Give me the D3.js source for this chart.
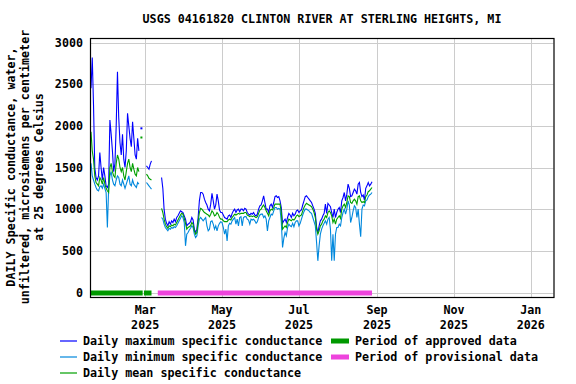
<!doctype html>
<html lang="en">
<head>
  <meta charset="UTF-8">
  <title>USGS 04161820</title>
  <script src="https://cdn.jsdelivr.net/npm/d3@7"></script>
  <style>
    body { margin: 0; background: #fff; }
    text { font-family: "DejaVu Sans Mono", monospace; font-weight: bold; font-size: 11.7px; fill: #000; }
  </style>
</head>
<body>
<svg width="576" height="384" id="chart"></svg>
<script>
  // daily values, one per day starting at firstDay (null = no data)
  var firstDay = '2025-01-17';

  var dailyMax = [
    2450, 2820, 2250, 1500, 1380, 1350, 1400, 1680, 1500, 1350, 1500, 1400, 1280, 1260, 1300, 2070,
    1900, 1700, 1450, 1550, 2000, 2650, 2100, 1800, 1650, 1900, 1600, 1500, 1700, 2150, 2000, 1850,
    1750, 2050, 1850, 1650, 1600, 1850, 1700,
    null, 1970, null, null, null,
    1520, 1500, 1480, 1540, 1580,
    null, null, null, null, null, null, null,
    1380, 1250, 1000, 880, 830, 800, 850, 820, 860, 840, 880, 850, 900, 920, 950, 980,
    970, 960, 920, 880, 800, 820, 830, 850, 900, 870, 760, 720, 760, 900, 1100, 1200,
    1200, 1180, 1120, 1080, 1050, 1000, 980, 1060, 1190, 1100, 1000, 1050, 1180, 1100, 990, 960,
    960, 930, 900, 890, 880, 920, 930, 900, 950, 980, 1000, 960, 990, 1000, 970, 1000,
    1000, 980, 1010, 1000, 960, 940, 930, 950, 940, 960, 930, 920, 940, 1000, 1040, 1050,
    1100, 1160, 1080, 1000, 1000, 960, 1040, 1060, 1020, 1080, 1150, 1160, 1140, 1150, 1100, 1020,
    830, 860, 880, 840, 900, 950, 930, 900, 950, 920, 940, 980, 990, 960, 980, 990,
    1050, 1100, 1150, 1160, 1140, 1120, 1100, 1080, 1040, 1000, 950, 790, 710, 800, 860, 880,
    920, 950, 1060, 950, 1070, 1050, 1030, 960, 900, 1000, 900, 960, 1000, 1020, 960, 1100,
    1140, 1200, 1100, 1180, 1300, 1250, 1150, 1160, 1200, 1240, 1220, 1180, 1300, 1320, 1200, 1150,
    1170, 1110, 1250, 1280, 1320, 1280, 1300, 1330
  ];

  var dailyMin = [
    1550, 1400, 1350, 1300, 1260, 1230, 1220, 1270, 1280, 1250, 1300, 1250, 1200, 780, 1250, 1400,
    1450, 1350, 1300, 1280, 1350, 1400, 1380, 1300, 1280, 1350, 1300, 1250, 1300, 1350, 1400, 1300,
    1280, 1350, 1300, 1280, 1260, 1320, 1300,
    null, null, null, null, null,
    1320, 1300, 1280, 1260, 1240,
    null, null, null, null, null, null, null,
    900, 880, 820, 780, 760, 740, 770, 760, 780, 770, 790, 780, 800, 830, 860, 890,
    920, 900, 840, 560, 700, 720, 750, 770, 800, 780, 700, 660, 680, 800, 880, 900,
    880, 860, 880, 900, 800, 740, 760, 850, 860, 820, 760, 800, 740, 800, 830, 850,
    840, 780, 700, 760, 620, 800, 830, 820, 860, 880, 900, 820, 880, 800, 900, 910,
    800, 900, 910, 910, 880, 870, 820, 880, 870, 880, 860, 830, 850, 900, 930, 940,
    940, 900, 920, 880, 740, 860, 900, 940, 930, 980, 1020, 1020, 1000, 1010, 1000, 850,
    540, 650, 720, 680, 780, 820, 800, 790, 830, 790, 840, 860, 860, 800, 830, 880,
    930, 970, 1000, 1000, 990, 980, 960, 950, 900, 850, 800, 600, 380, 560, 700, 760,
    800, 830, 860, 820, 880, 900, 760, 380, 700, 380, 700, 780, 780, 820, 800, 900,
    960, 1000, 940, 1000, 1100, 1050, 840, 900, 980, 1040, 1020, 900, 1000, 820, 670, 1000,
    1050, 1040, 1100, 1110, 1150, 1170, 1180, 1200
  ];

  var dailyMean = [
    1930, 1700, 1600, 1400, 1320, 1300, 1280, 1380, 1350, 1300, 1380, 1300, 1250, 1220, 1200, 1500,
    1550, 1450, 1400, 1380, 1550, 1650, 1600, 1500, 1450, 1500, 1400, 1350, 1450, 1550, 1600, 1500,
    1450, 1550, 1480, 1420, 1400, 1500, 1450,
    null, 1860, null, null, null,
    1420, 1400, 1370, 1360, 1350,
    null, null, null, null, null, null, null,
    1010, 960, 880, 820, 790, 770, 800, 790, 810, 800, 820, 810, 840, 870, 900, 930,
    950, 940, 890, 830, 760, 780, 790, 800, 840, 820, 740, 700, 720, 850, 960, 1010,
    1000, 980, 960, 950, 940, 930, 910, 940, 980, 960, 920, 930, 960, 940, 900, 880,
    880, 860, 850, 850, 850, 870, 880, 870, 900, 920, 940, 930, 940, 950, 940, 950,
    950, 950, 960, 960, 930, 920, 910, 920, 910, 920, 910, 900, 910, 950, 990, 1000,
    1030, 1050, 1020, 980, 950, 920, 980, 1000, 990, 1020, 1060, 1060, 1060, 1060, 1060, 960,
    760, 780, 800, 780, 840, 880, 870, 860, 880, 870, 890, 920, 930, 910, 920, 930,
    980, 1020, 1050, 1070, 1060, 1050, 1040, 1030, 1000, 960, 900, 760, 700, 740, 800, 820,
    860, 880, 920, 900, 960, 980, 960, 920, 840, 880, 820, 880, 900, 920, 890, 1000,
    1040, 1060, 1020, 1080, 1160, 1150, 1080, 1070, 1100, 1120, 1100, 1060, 1150, 1160, 1100, 1080,
    1090, 1080, 1150, 1170, 1210, 1220, 1240, 1260
  ];

  var approvedPeriods = [['2025-01-17', '2025-02-27'], ['2025-02-28', '2025-03-06']];
  var provisionalPeriods = [['2025-03-11', '2025-08-28']];
  var yTicks = [0, 500, 1000, 1500, 2000, 2500, 3000];
  var xTickDates = ['2025-03-01', '2025-05-01', '2025-07-01', '2025-09-01', '2025-11-01', '2026-01-01'];

  var title = 'USGS 04161820 CLINTON RIVER AT STERLING HEIGHTS, MI';
  var yLabel = ['DAILY Specific conductance, water,',
    'unfiltered, microsiemens per centimeter',
    'at 25 degrees Celsius'];

  var parse = d3.utcParse('%Y-%m-%d');
  var fmtMon = d3.utcFormat('%b'), fmtYear = d3.utcFormat('%Y');

  var svg = d3.select('#chart'),
    margin = {top: 39, right: 22.5, bottom: 87, left: 91},
    width = +svg.attr('width') - margin.left - margin.right,
    height = +svg.attr('height') - margin.top - margin.bottom;

  var x = d3.scaleUtc()
    .domain([parse('2025-01-17'), parse('2026-01-19')])
    .range([0, width]);
  var y = d3.scaleLinear()
    .domain([-54, 3042])
    .range([height, 0]);

  var g = svg.append('g').attr('transform', 'translate(' + margin.left + ',' + margin.top + ')');

  function rows(values) {
    var start = parse(firstDay);
    return values.map(function (v, i) {
      return {date: d3.utcDay.offset(start, i), value: v};
    });
  }

  // grid
  g.append('g').selectAll('line').data(yTicks).enter().append('line')
    .attr('x1', 0).attr('x2', width)
    .attr('y1', function (d) { return Math.round(y(d)) + 0.5; })
    .attr('y2', function (d) { return Math.round(y(d)) + 0.5; })
    .attr('stroke', '#cccccc');
  g.append('g').selectAll('line').data(xTickDates).enter().append('line')
    .attr('x1', function (d) { return Math.round(x(parse(d))) + 0.5; })
    .attr('x2', function (d) { return Math.round(x(parse(d))) + 0.5; })
    .attr('y1', 0).attr('y2', height)
    .attr('stroke', '#cccccc');

  // y tick labels
  g.append('g').selectAll('text').data(yTicks).enter().append('text')
    .attr('x', -8)
    .attr('y', function (d) { return y(d); })
    .attr('dy', '0.35em')
    .attr('text-anchor', 'end')
    .text(function (d) { return d; });

  // x tick labels
  var xl = g.append('g').selectAll('text').data(xTickDates).enter().append('text')
    .attr('text-anchor', 'middle')
    .attr('transform', function (d) { return 'translate(' + x(parse(d)) + ',' + (height + 17) + ')'; });
  xl.append('tspan').attr('x', 0).attr('y', 0).text(function (d) { return fmtMon(parse(d)); });
  xl.append('tspan').attr('x', 0).attr('y', 15).text(function (d) { return fmtYear(parse(d)); });

  // approval periods
  g.append('g').selectAll('rect').data(approvedPeriods).enter().append('rect')
    .attr('x', function (d) { return x(parse(d[0])); })
    .attr('width', function (d) { return x(parse(d[1])) - x(parse(d[0])); })
    .attr('y', y(0) - 2).attr('height', 5)
    .attr('fill', '#009900');
  g.append('g').selectAll('rect').data(provisionalPeriods).enter().append('rect')
    .attr('x', function (d) { return x(parse(d[0])); })
    .attr('width', function (d) { return x(parse(d[1])) - x(parse(d[0])); })
    .attr('y', y(0) - 2).attr('height', 5)
    .attr('fill', '#ee44dd');

  // series
  var line = d3.line()
    .defined(function (d) { return d.value != null; })
    .x(function (d) { return x(d.date); })
    .y(function (d) { return y(d.value); });

  function drawSeries(values, color) {
    var data = rows(values);
    g.append('path').datum(data)
      .attr('d', line)
      .attr('fill', 'none')
      .attr('stroke', color)
      .attr('stroke-width', 1.1);
    // lone days with no neighbours get a dot
    var lone = data.filter(function (d, i) {
      return d.value != null && (i === 0 || data[i - 1].value == null) &&
        (i === data.length - 1 || data[i + 1].value == null);
    });
    g.append('g').selectAll('rect').data(lone).enter().append('rect')
      .attr('x', function (d) { return x(d.date) - 1; })
      .attr('y', function (d) { return y(d.value) - 1; })
      .attr('width', 2).attr('height', 2)
      .attr('fill', color);
  }

  drawSeries(dailyMax, '#0000ff');
  drawSeries(dailyMin, '#0088dd');
  drawSeries(dailyMean, '#00a000');

  // frame
  g.append('rect')
    .attr('x', -0.5).attr('y', -0.5)
    .attr('width', width + 1).attr('height', height + 1)
    .attr('fill', 'none').attr('stroke', '#000').attr('stroke-width', 1.2);

  // title
  svg.append('text')
    .attr('x', 322).attr('y', 23)
    .attr('text-anchor', 'middle')
    .text(title);

  // y label
  svg.append('g').selectAll('text').data(yLabel).enter().append('text')
    .attr('text-anchor', 'middle')
    .attr('dy', '0.35em')
    .attr('transform', function (d, i) { return 'translate(' + (11 + i * 14) + ',167) rotate(-90)'; })
    .text(function (d) { return d; });

  // legend
  var legendLines = [
    {label: 'Daily maximum specific conductance', color: '#0000ff'},
    {label: 'Daily minimum specific conductance', color: '#0088dd'},
    {label: 'Daily mean specific conductance', color: '#00a000'}
  ];
  var legendBars = [
    {label: 'Period of approved data', color: '#009900'},
    {label: 'Period of provisional data', color: '#ee44dd'}
  ];
  var lg = svg.append('g');
  legendLines.forEach(function (d, i) {
    var yy = 341 + i * 16;
    lg.append('line').attr('x1', 60).attr('x2', 77).attr('y1', yy).attr('y2', yy)
      .attr('stroke', d.color).attr('stroke-width', 1.2);
    lg.append('text').attr('x', 83).attr('y', yy).attr('dy', '0.35em').text(d.label);
  });
  legendBars.forEach(function (d, i) {
    var yy = 341 + i * 16;
    lg.append('rect').attr('x', 331).attr('y', yy - 2.5).attr('width', 18).attr('height', 5)
      .attr('fill', d.color);
    lg.append('text').attr('x', 355).attr('y', yy).attr('dy', '0.35em').text(d.label);
  });
</script>
</body>
</html>
